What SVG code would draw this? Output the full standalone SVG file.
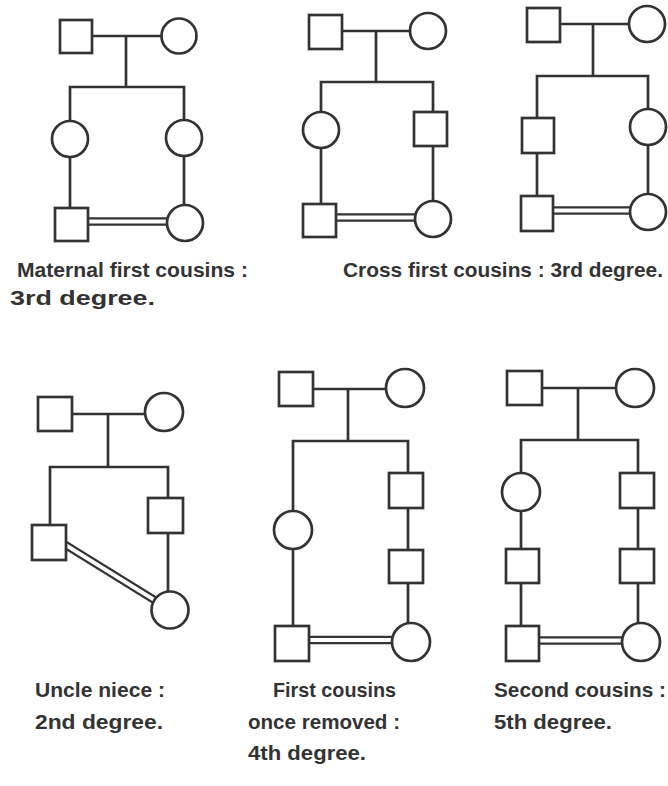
<svg xmlns="http://www.w3.org/2000/svg" width="668" height="786" viewBox="0 0 668 786">
  <style>
    .ln { stroke: #333; stroke-width: 2.7; fill: none; stroke-linecap: square; }
    .dbl-o { stroke: #333; stroke-width: 8.5; fill: none; }
    .dbl-i { stroke: #fff; stroke-width: 4; fill: none; }
    .nd { fill: #fff; stroke: #333; stroke-width: 2.7; }
    .lbl { font-family: "Liberation Sans", Arial, sans-serif; font-weight: bold; font-size: 21px; fill: #333; }
  </style>
  <rect width="668" height="786" fill="#fff"/>

  <!-- lines of descent, sibships and matings -->
  <g id="connectors">
    <!-- maternal first cousins -->
    <path class="ln" d="M92 36H162M126 36V87M70 87H184M70 87V121M184 87V120M70 157V208M184 156V205"/>
    <path class="dbl-o" d="M87 221.5H167"/><path class="dbl-i" d="M86 221.5H168"/>
    <!-- cross first cousins -->
    <path class="ln" d="M342 31H410M376 31V82M321 82H433M321 82V112M433 82V112M321 148V204M433 146V201"/>
    <path class="dbl-o" d="M336 217.5H415"/><path class="dbl-i" d="M335 217.5H416"/>
    <!-- cross first cousins, second drawing -->
    <path class="ln" d="M560 24H629M593 24V76M537 76H648M537 76V118M648 76V109M537 153V196M648 145V194"/>
    <path class="dbl-o" d="M553 210.5H630"/><path class="dbl-i" d="M552 210.5H631"/>
    <!-- uncle niece -->
    <path class="ln" d="M72 414H145M108 414V467M50 467H168M50 467V525M168 467V498M168 533V592"/>
    <path class="dbl-o" d="M64 544L156 601"/><path class="dbl-i" d="M63 543.4L157 601.6"/>
    <!-- first cousins once removed -->
    <path class="ln" d="M313 389H386M348 389V441M293 441H408M293 441V511M293 549V626M408 441V473M408 508V550M408 583V623"/>
    <path class="dbl-o" d="M309 640H392"/><path class="dbl-i" d="M308 640H393"/>
    <!-- second cousins -->
    <path class="ln" d="M542 388H616M578 388V440M521 440H638M521 440V473M521 511V549M521 583V626M638 440V473M638 508V549M638 583V623"/>
    <path class="dbl-o" d="M539 640.5H622"/><path class="dbl-i" d="M538 640.5H623"/>
  </g>

  <!-- maternal first cousins -->
  <g id="p1-father"><rect class="nd" x="60" y="20" width="32" height="33"/></g>
  <g id="p1-mother"><circle class="nd" cx="179" cy="36" r="17.5"/></g>
  <g id="p1-daughter-a"><circle class="nd" cx="70" cy="139" r="18"/></g>
  <g id="p1-daughter-b"><circle class="nd" cx="184" cy="138" r="18"/></g>
  <g id="p1-grandson"><rect class="nd" x="55" y="208" width="33" height="33"/></g>
  <g id="p1-granddaughter"><circle class="nd" cx="185" cy="223" r="18"/></g>

  <!-- cross first cousins -->
  <g id="p2-father"><rect class="nd" x="309" y="15" width="33" height="34"/></g>
  <g id="p2-mother"><circle class="nd" cx="428" cy="31" r="18"/></g>
  <g id="p2-daughter"><circle class="nd" cx="321" cy="130" r="18"/></g>
  <g id="p2-son"><rect class="nd" x="414" y="112" width="33" height="34"/></g>
  <g id="p2-grandson"><rect class="nd" x="303" y="204" width="33" height="33"/></g>
  <g id="p2-granddaughter"><circle class="nd" cx="433" cy="219" r="18"/></g>

  <!-- cross first cousins, second drawing -->
  <g id="p3-father"><rect class="nd" x="527" y="8" width="33" height="34"/></g>
  <g id="p3-mother"><circle class="nd" cx="647" cy="24" r="18"/></g>
  <g id="p3-son"><rect class="nd" x="522" y="118" width="32" height="35"/></g>
  <g id="p3-daughter"><circle class="nd" cx="648" cy="127" r="18"/></g>
  <g id="p3-grandson"><rect class="nd" x="521" y="196" width="32" height="35"/></g>
  <g id="p3-granddaughter"><circle class="nd" cx="648" cy="212" r="18"/></g>

  <!-- uncle niece -->
  <g id="p4-father"><rect class="nd" x="38" y="397" width="34" height="34"/></g>
  <g id="p4-mother"><circle class="nd" cx="164" cy="412" r="19"/></g>
  <g id="p4-brother"><rect class="nd" x="148" y="498" width="35" height="35"/></g>
  <g id="p4-uncle"><rect class="nd" x="32" y="525" width="34" height="35"/></g>
  <g id="p4-niece"><circle class="nd" cx="170" cy="610" r="18.5"/></g>

  <!-- first cousins once removed -->
  <g id="p5-father"><rect class="nd" x="279" y="372" width="34" height="34"/></g>
  <g id="p5-mother"><circle class="nd" cx="405" cy="388" r="19"/></g>
  <g id="p5-daughter"><circle class="nd" cx="293" cy="530" r="19"/></g>
  <g id="p5-son"><rect class="nd" x="389" y="473" width="34" height="35"/></g>
  <g id="p5-grandson-a"><rect class="nd" x="389" y="550" width="34" height="33"/></g>
  <g id="p5-grandson-b"><rect class="nd" x="275" y="626" width="34" height="35"/></g>
  <g id="p5-great-granddaughter"><circle class="nd" cx="411" cy="642" r="19"/></g>

  <!-- second cousins -->
  <g id="p6-father"><rect class="nd" x="507" y="371" width="35" height="34"/></g>
  <g id="p6-mother"><circle class="nd" cx="635" cy="388" r="19"/></g>
  <g id="p6-daughter"><circle class="nd" cx="521" cy="492" r="19"/></g>
  <g id="p6-son"><rect class="nd" x="620" y="473" width="34" height="35"/></g>
  <g id="p6-grandson-a"><rect class="nd" x="506" y="549" width="33" height="34"/></g>
  <g id="p6-grandson-b"><rect class="nd" x="620" y="549" width="34" height="34"/></g>
  <g id="p6-great-grandson"><rect class="nd" x="506" y="626" width="33" height="35"/></g>
  <g id="p6-great-granddaughter"><circle class="nd" cx="641" cy="642" r="19"/></g>

  <!-- captions -->
  <g id="captions">
    <text class="lbl" x="17" y="277" textLength="231" lengthAdjust="spacingAndGlyphs">Maternal first cousins :</text>
    <text class="lbl" x="10" y="305" textLength="145" lengthAdjust="spacingAndGlyphs">3rd degree.</text>
    <text class="lbl" x="343" y="277" textLength="320" lengthAdjust="spacingAndGlyphs">Cross first cousins : 3rd degree.</text>
    <text class="lbl" x="35" y="697" textLength="130" lengthAdjust="spacingAndGlyphs">Uncle niece :</text>
    <text class="lbl" x="35" y="729" textLength="128" lengthAdjust="spacingAndGlyphs">2nd degree.</text>
    <text class="lbl" x="273" y="697" textLength="123" lengthAdjust="spacingAndGlyphs">First cousins</text>
    <text class="lbl" x="248" y="729" textLength="152" lengthAdjust="spacingAndGlyphs">once removed :</text>
    <text class="lbl" x="248" y="760" textLength="118" lengthAdjust="spacingAndGlyphs">4th degree.</text>
    <text class="lbl" x="494" y="697" textLength="172" lengthAdjust="spacingAndGlyphs">Second cousins :</text>
    <text class="lbl" x="494" y="729" textLength="118" lengthAdjust="spacingAndGlyphs">5th degree.</text>
  </g>
</svg>
